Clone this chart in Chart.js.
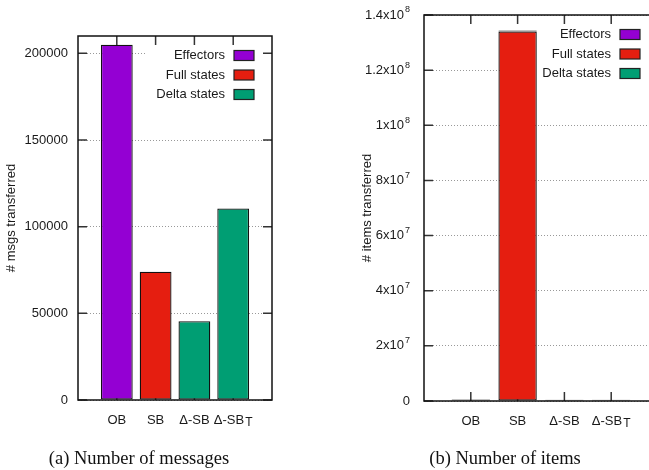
<!DOCTYPE html>
<html>
<head>
<meta charset="utf-8">
<script src="https://cdn.jsdelivr.net/npm/chart.js@4"></script>
<style>
html, body { margin: 0; padding: 0; overflow: hidden; background: #fff; }
#graphA { position: absolute; left: 0; top: 0; }
#graphB { position: absolute; left: 330px; top: 0; }
</style>
</head>
<body>
<canvas id="graphA" width="330" height="470"></canvas>
<canvas id="graphB" width="340" height="470"></canvas>
<script>
// categories and series
const categories = ['OB', 'SB', 'Δ-SB', 'Δ-SB_T'];
const seriesNames = ['Effectors', 'Full states', 'Delta states'];
const seriesColors = ['#9400d3', '#e51e10', '#009e73'];

// (a) number of messages
const msgsEffectors = [205000, null, null, null];
const msgsFull = [null, 74000, null, null];
const msgsDelta = [null, null, 45500, 110500];
const msgsTicks = [0, 50000, 100000, 150000, 200000];
const msgsTickLabels = ['0', '50000', '100000', '150000', '200000'];

// (b) number of items
const itemsEffectors = [550000, null, null, null];
const itemsFull = [null, 134000000, null, null];
const itemsDelta = [null, 400000, 450000, 450000];
const itemsTicks = [0, 2e7, 4e7, 6e7, 8e7, 1e8, 1.2e8, 1.4e8];
const itemsTickLabels = ['0', '2x10^7', '4x10^7', '6x10^7', '8x10^7', '1x10^8', '1.2x10^8', '1.4x10^8'];

const FONT = '"Liberation Sans", Arial, sans-serif';

// texte avec exposant (^) ou indice (_), aligne selon align
function drawRichText(ctx, text, x, y, align) {
    let main = text, small = '', shift = 0;
    if (text.indexOf('^') >= 0) { [main, small] = text.split('^'); shift = -5; }
    if (text.indexOf('_') >= 0) { [main, small] = text.split('_'); shift = 3; }
    ctx.font = '13px ' + FONT;
    const mainW = ctx.measureText(main).width;
    let smallW = 0;
    const smallFont = (shift < 0 ? '9px ' : '12px ') + FONT;
    if (small) { ctx.font = smallFont; smallW = ctx.measureText(small).width + 1; }
    const total = mainW + smallW;
    let start = align === 'right' ? x - total : x - total / 2;
    ctx.textAlign = 'left';
    ctx.textBaseline = 'middle';
    ctx.font = '13px ' + FONT;
    ctx.fillText(main, start, y);
    if (small) {
        ctx.font = smallFont;
        ctx.fillText(small, start + mainW + 1, y + shift);
    }
}

function makeChart(canvasId, setup) {
    const datasets = [setup.effectors, setup.full, setup.delta].map((values, s) => ({
        label: seriesNames[s],
        data: values.map((v, i) => ({ x: i + 1, y: v })),
        backgroundColor: seriesColors[s],
        borderColor: '#111',
        borderWidth: 1.3,
        borderSkipped: false,
        barPercentage: 0.82,
        categoryPercentage: 1
    }));

    const gnuplotLook = {
        id: 'gnuplotLook',
        beforeDatasetsDraw(chart) {
            const ctx = chart.ctx;
            const area = chart.chartArea;
            const xs = chart.scales.x, ys = chart.scales.y;
            ctx.save();
            // fond opaque de la legende
            ctx.fillStyle = '#fff';
            ctx.fillRect(area.right - 125, area.top + 8, 115, 61);
            // petites graduations vers l'interieur
            ctx.strokeStyle = '#333';
            ctx.lineWidth = 1.5;
            ctx.beginPath();
            setup.ticks.forEach(v => {
                const y = ys.getPixelForValue(v);
                ctx.moveTo(area.left, y); ctx.lineTo(area.left + 9, y);
                ctx.moveTo(area.right - 9, y); ctx.lineTo(area.right, y);
            });
            categories.forEach((c, i) => {
                const x = xs.getPixelForValue(i + 1);
                ctx.moveTo(x, area.top); ctx.lineTo(x, area.top + 9);
                ctx.moveTo(x, area.bottom); ctx.lineTo(x, area.bottom - 9);
            });
            ctx.stroke();
            ctx.restore();
        },
        afterDraw(chart) {
            const ctx = chart.ctx;
            const area = chart.chartArea;
            const xs = chart.scales.x, ys = chart.scales.y;
            ctx.save();
            // cadre
            ctx.strokeStyle = '#111';
            ctx.lineWidth = 1.5;
            ctx.strokeRect(area.left, area.top, area.right - area.left, area.bottom - area.top);
            ctx.fillStyle = '#1a1a1a';
            // libelles des graduations
            setup.ticks.forEach((v, i) => {
                drawRichText(ctx, setup.tickLabels[i], area.left - setup.labelGap, ys.getPixelForValue(v), 'right');
            });
            categories.forEach((c, i) => {
                drawRichText(ctx, c, xs.getPixelForValue(i + 1), area.bottom + 20, 'center');
            });
            // legende
            seriesNames.forEach((name, s) => {
                const y = area.top + 19.5 + s * 19.5;
                const boxRight = area.right - 18;
                ctx.font = '13px ' + FONT;
                ctx.textAlign = 'right';
                ctx.textBaseline = 'middle';
                ctx.fillStyle = '#1a1a1a';
                ctx.fillText(name, boxRight - 29, y);
                ctx.fillStyle = seriesColors[s];
                ctx.fillRect(boxRight - 20, y - 5, 20, 10);
                ctx.strokeStyle = '#222';
                ctx.lineWidth = 1.2;
                ctx.strokeRect(boxRight - 20, y - 5, 20, 10);
            });
            // titre de l'axe y
            ctx.save();
            ctx.translate(setup.titleX, (area.top + area.bottom) / 2);
            ctx.rotate(-Math.PI / 2);
            ctx.font = '13px ' + FONT;
            ctx.textAlign = 'center';
            ctx.textBaseline = 'middle';
            ctx.fillStyle = '#1a1a1a';
            ctx.fillText(setup.yTitle, 0, 0);
            ctx.restore();
            // legende sous la figure
            ctx.font = '18.5px "Liberation Serif", "Times New Roman", serif';
            ctx.textAlign = 'center';
            ctx.textBaseline = 'alphabetic';
            ctx.fillStyle = '#111';
            ctx.fillText(setup.caption, setup.captionX, 464);
            ctx.restore();
        }
    };

    return new Chart(document.getElementById(canvasId), {
        type: 'bar',
        data: { datasets: datasets },
        options: {
            responsive: false,
            animation: false,
            devicePixelRatio: 1,
            layout: { padding: setup.padding },
            plugins: { legend: { display: false }, tooltip: { enabled: false } },
            scales: {
                x: {
                    type: 'linear', min: 0, max: 5, offset: false, stacked: true,
                    display: false,
                    grid: { offset: false }
                },
                y: {
                    type: 'linear', min: 0, max: setup.max, stacked: true,
                    afterBuildTicks: scale => { scale.ticks = setup.ticks.map(v => ({ value: v })); },
                    afterFit: scale => { scale.width = 0; },
                    ticks: { display: false },
                    grid: { color: '#999', lineWidth: 1, drawTicks: false },
                    border: { display: false, dash: [1, 2] }
                }
            }
        },
        plugins: [gnuplotLook]
    });
}

makeChart('graphA', {
    effectors: msgsEffectors, full: msgsFull, delta: msgsDelta,
    ticks: msgsTicks, tickLabels: msgsTickLabels, max: 210000,
    padding: { left: 78, top: 36, right: 58, bottom: 70 },
    labelGap: 10, titleX: 11,
    yTitle: '# msgs transferred',
    caption: '(a) Number of messages', captionX: 139
});

makeChart('graphB', {
    effectors: itemsEffectors, full: itemsFull, delta: itemsDelta,
    ticks: itemsTicks, tickLabels: itemsTickLabels, max: 1.4e8,
    padding: { left: 94, top: 15, right: 12, bottom: 69 },
    labelGap: 14, titleX: 37,
    yTitle: '# items transferred',
    caption: '(b) Number of items', captionX: 175
});
</script>
</body>
</html>
